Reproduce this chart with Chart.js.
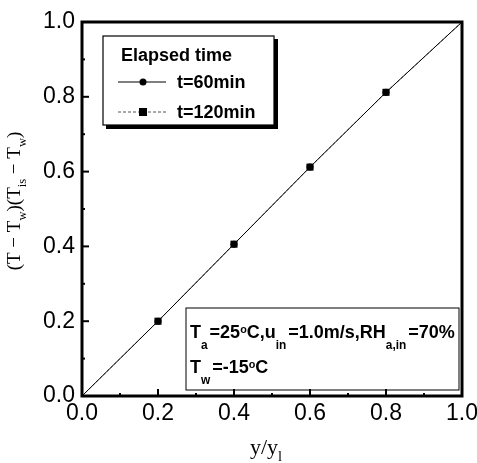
<!DOCTYPE html>
<html lang="en">
<head>
    <meta charset="UTF-8">
    <title>Dimensionless temperature profile</title>
    <script src="https://cdn.jsdelivr.net/npm/chart.js"></script>
    <style>
        body { margin: 0; background: #fff; }
        canvas { display: block; }
    </style>
</head>
<body>
    <canvas id="profileChart" width="477" height="463"></canvas>

    <script>
        // Data
        const xValues = [0.0, 0.2, 0.4, 0.6, 0.8, 1.0];
        const t60Values = [0.0, 0.2, 0.406, 0.612, 0.812, 1.0];
        const t120Values = [0.0, 0.2, 0.406, 0.612, 0.812, 1.0];
        const seriesLabels = ['t=60min', 't=120min'];
        const legendTitle = 'Elapsed time';
        const tickValues = [0.0, 0.2, 0.4, 0.6, 0.8, 1.0];

        const toPoints = (xs, ys) => xs.map((x, i) => ({ x: x, y: ys[i] }));
        // no marker on the end points of the line
        const markerRadius = (r) => (c) => (c.dataIndex === 0 || c.dataIndex === xValues.length - 1) ? 0 : r;

        // draw a string made of pieces, some of them subscripts
        function drawRich(ctx, x, y, parts, size, bold, family, subDrop) {
            let cx = x;
            parts.forEach(p => {
                const s = p.sub ? size * 0.66 : (p.sup ? size * 0.6 : size);
                ctx.font = (bold ? 'bold ' : '') + s + 'px ' + family;
                let dy = 0;
                if (p.sub) dy = size * (subDrop || 0.45);
                if (p.sup) dy = -size * 0.3;
                ctx.fillText(p.t, cx, y + dy);
                cx += ctx.measureText(p.t).width + (p.gap || 0);
            });
            return cx - x;
        }

        function richWidth(ctx, parts, size, bold, family) {
            let w = 0;
            parts.forEach(p => {
                const s = p.sub ? size * 0.66 : (p.sup ? size * 0.6 : size);
                ctx.font = (bold ? 'bold ' : '') + s + 'px ' + family;
                w += ctx.measureText(p.t).width + (p.gap || 0);
            });
            return w;
        }

        const decorPlugin = {
            id: 'decor',
            afterDraw(chart) {
                const ctx = chart.ctx;
                const a = chart.chartArea;
                const xs = chart.scales.x;
                const ys = chart.scales.y;
                ctx.save();
                ctx.fillStyle = '#000';
                ctx.strokeStyle = '#000';

                // frame
                ctx.lineWidth = 3;
                ctx.strokeRect(a.left, a.top, a.right - a.left, a.bottom - a.top);

                // inward ticks on bottom and left axes
                ctx.lineWidth = 2;
                for (let i = 1; i < 10; i++) {
                    const v = i / 10;
                    const len = (i % 2 === 0) ? 7 : 3;
                    const px = xs.getPixelForValue(v);
                    ctx.beginPath();
                    ctx.moveTo(px, a.bottom);
                    ctx.lineTo(px, a.bottom - len);
                    ctx.stroke();
                    const py = ys.getPixelForValue(v);
                    ctx.beginPath();
                    ctx.moveTo(a.left, py);
                    ctx.lineTo(a.left + len, py);
                    ctx.stroke();
                }

                // legend box with drop shadow
                const lx = 103, ly = 36, lw = 171, lh = 89;
                ctx.fillRect(lx + 3, ly + 3, lw + 1, lh + 1);
                ctx.fillStyle = '#fff';
                ctx.fillRect(lx, ly, lw, lh);
                ctx.lineWidth = 1.2;
                ctx.strokeRect(lx, ly, lw, lh);
                ctx.fillStyle = '#000';
                ctx.font = 'bold 18px "Liberation Sans", Arial, sans-serif';
                ctx.textBaseline = 'alphabetic';
                ctx.textAlign = 'left';
                ctx.fillText(legendTitle, 121, 61);

                const rows = [82, 112];
                const sets = chart.data.datasets;
                rows.forEach((ry, i) => {
                    const ds = sets[i];
                    ctx.strokeStyle = ds.borderColor;
                    ctx.lineWidth = 1;
                    ctx.setLineDash(ds.borderDash || []);
                    ctx.beginPath();
                    ctx.moveTo(118, ry);
                    ctx.lineTo(166, ry);
                    ctx.stroke();
                    ctx.setLineDash([]);
                    ctx.fillStyle = '#000';
                    if (ds.pointStyle === 'rect') {
                        ctx.fillRect(139, ry - 4, 8, 8);
                    } else {
                        ctx.beginPath();
                        ctx.arc(143, ry, 3.5, 0, Math.PI * 2);
                        ctx.fill();
                    }
                    ctx.font = 'bold 18px "Liberation Sans", Arial, sans-serif';
                    ctx.textBaseline = 'middle';
                    ctx.fillText(ds.label, 177, ry + 1);
                });

                // condition box
                ctx.strokeStyle = '#000';
                ctx.lineWidth = 1;
                ctx.strokeRect(186, 308, 273, 82);
                ctx.textBaseline = 'alphabetic';
                const fam = '"Liberation Sans", Arial, sans-serif';
                drawRich(ctx, 190, 338, [
                    { t: 'T' }, { t: 'a', sub: true, gap: 2 }, { t: '=25' }, { t: 'o', sup: true },
                    { t: 'C,u' }, { t: 'in', sub: true, gap: 2 }, { t: '=1.0m/s,RH' },
                    { t: 'a,in', sub: true, gap: 2 }, { t: '=70%' }
                ], 18, true, fam, 0.6);
                drawRich(ctx, 190, 373, [
                    { t: 'T' }, { t: 'w', sub: true, gap: 2 }, { t: '=-15' }, { t: 'o', sup: true }, { t: 'C' }
                ], 18, true, fam, 0.6);

                // axis titles (serif, with subscripts)
                const serif = '"Liberation Serif", "Times New Roman", serif';
                const yTitle = [
                    { t: '(T' }, { t: ' \u2212 ', }, { t: 'T' }, { t: 'w', sub: true }, { t: ')(T' },
                    { t: 'is', sub: true }, { t: ' \u2212 ' }, { t: 'T' }, { t: 'w', sub: true }, { t: ')' }
                ];
                const yw = richWidth(ctx, yTitle, 19, false, serif);
                ctx.save();
                ctx.translate(20, 201);
                ctx.rotate(-Math.PI / 2);
                drawRich(ctx, -yw / 2, 0, yTitle, 19, false, serif, 0.3);
                ctx.restore();

                const xTitle = [{ t: 'y/y' }, { t: 'l', sub: true }];
                const xw = richWidth(ctx, xTitle, 22, false, serif);
                drawRich(ctx, 266 - xw / 2, 454, xTitle, 22, false, serif, 0.3);

                ctx.restore();
            }
        };

        const ctxProfile = document.getElementById('profileChart').getContext('2d');
        new Chart(ctxProfile, {
            type: 'scatter',
            data: {
                datasets: [{
                    label: seriesLabels[0],
                    data: toPoints(xValues, t60Values),
                    showLine: true,
                    borderColor: '#000',
                    borderWidth: 1,
                    pointStyle: 'circle',
                    pointRadius: markerRadius(3.5),
                    pointBackgroundColor: '#000',
                    pointBorderWidth: 0,
                    order: 1
                }, {
                    label: seriesLabels[1],
                    data: toPoints(xValues, t120Values),
                    showLine: true,
                    borderColor: '#555',
                    borderWidth: 1,
                    borderDash: [3, 2],
                    pointStyle: 'rect',
                    pointRadius: markerRadius(5),
                    pointBackgroundColor: '#000',
                    pointBorderWidth: 0,
                    order: 2
                }]
            },
            options: {
                responsive: false,
                animation: false,
                layout: { padding: { left: 0, top: 22, right: 15, bottom: 0 } },
                plugins: {
                    legend: { display: false },
                    tooltip: { enabled: false }
                },
                scales: {
                    x: {
                        type: 'linear',
                        min: 0,
                        max: 1,
                        afterBuildTicks: (s) => { s.ticks = tickValues.map(v => ({ value: v })); },
                        ticks: {
                            color: '#000',
                            font: { family: '"Liberation Sans", Arial, sans-serif', size: 23 },
                            padding: 4,
                            maxRotation: 0,
                            callback: (v) => Number(v).toFixed(1)
                        },
                        grid: { display: false, drawTicks: false },
                        border: { display: false },
                        afterFit: (s) => { s.height = 67; s.paddingLeft = 0; s.paddingRight = 0; }
                    },
                    y: {
                        type: 'linear',
                        min: 0,
                        max: 1,
                        afterBuildTicks: (s) => { s.ticks = tickValues.map(v => ({ value: v })); },
                        ticks: {
                            color: '#000',
                            font: { family: '"Liberation Sans", Arial, sans-serif', size: 23 },
                            padding: 7,
                            callback: (v) => Number(v).toFixed(1)
                        },
                        grid: { display: false, drawTicks: false },
                        border: { display: false },
                        afterFit: (s) => { s.width = 82; s.paddingTop = 0; s.paddingBottom = 0; }
                    }
                }
            },
            plugins: [decorPlugin]
        });
    </script>
</body>
</html>
